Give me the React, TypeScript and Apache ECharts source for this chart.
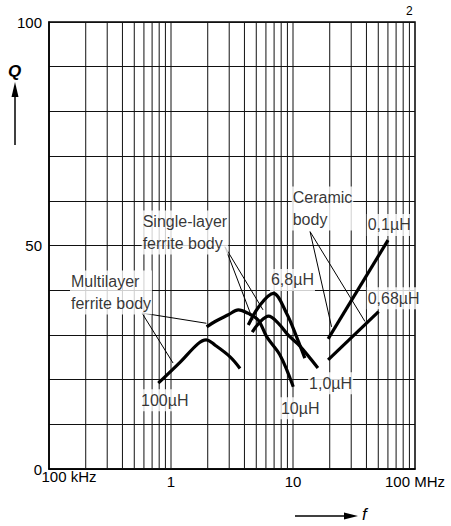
import React, { useEffect, useRef } from "react";
import * as echarts from "echarts";

// Frequencies in MHz, quality factor Q
const gridFreqs = [0.2, 0.3, 0.4, 0.5, 0.6, 0.7, 0.8, 0.9, 1, 2, 3, 4, 5, 6, 7, 8, 9, 10, 20, 30, 40, 50, 60, 70, 80, 90];

const ml100uH_f = [0.787, 1.19, 1.66, 1.94, 2.3, 3.05, 3.68];
const ml100uH_q = [19.2, 23.9, 28.0, 28.9, 27.7, 25.1, 22.5];

const ml10uH_f = [1.96, 2.3, 2.95, 3.56, 4.3, 5.2, 6.08, 7.82, 10.05];
const ml10uH_q = [31.8, 33.0, 34.5, 35.6, 34.8, 33.3, 29.6, 25.5, 18.4];

const sl6_8uH_f = [4.3, 5.37, 6.9, 8.87, 10.8, 12.5];
const sl6_8uH_q = [32.2, 36.7, 39.3, 34.8, 29.3, 24.8];

const sl1_0uH_f = [4.63, 5.37, 6.3, 7.59, 9.1, 11.4, 16.0];
const sl1_0uH_q = [30.6, 32.9, 34.2, 32.6, 30.0, 27.5, 22.6];

const ce0_1uH_f = [19.4, 60.1];
const ce0_1uH_q = [29.1, 51.2];

const ce0_68uH_f = [19.4, 50.3];
const ce0_68uH_q = [24.4, 35.2];

// Annotation texts and their anchors (f, Q)
const labelTexts = [
  "Multilayer\nferrite body",
  "Single-layer\nferrite body",
  "Ceramic\nbody",
  "0,1µH",
  "6,8µH",
  "0,68µH",
  "100µH",
  "10µH",
  "1,0µH",
];
const labelF = [0.1486, 0.575, 9.76, 40.2, 6.47, 40.2, 0.557, 7.82, 13.3];
const labelQ = [39.5, 52.9, 58.3, 54.6, 42.3, 38.2, 15.4, 13.6, 19.2];

// Leader lines: [from f, from Q, to f, to Q]
const leaders = [
  [0.578, 34.9, 1.95, 32.6],
  [0.578, 34.9, 1.04, 23.7],
  [2.77, 49.7, 4.7, 33.3],
  [2.77, 49.7, 5.68, 35.6],
  [13.8, 53.1, 20.7, 31.8],
  [13.8, 53.1, 38.9, 33.0],
];

const yTickLabels = [0, 50, 100];

const FONT = "'Liberation Sans', Arial, sans-serif";

function zip(f: number[], q: number[]) {
  return f.map((v, i) => [v, q[i]]);
}

export default function App() {
  const ref = useRef<HTMLDivElement>(null);
  useEffect(() => {
    if (!ref.current) return;
    const chart = echarts.init(ref.current, null, { renderer: "svg" });
    const curveStyle = { color: "#000", width: 3.2 };
    const curves = [
      { d: zip(ml100uH_f, ml100uH_q), smooth: 0.35 },
      { d: zip(ml10uH_f, ml10uH_q), smooth: 0.35 },
      { d: zip(sl6_8uH_f, sl6_8uH_q), smooth: 0.35 },
      { d: zip(sl1_0uH_f, sl1_0uH_q), smooth: 0.35 },
      { d: zip(ce0_1uH_f, ce0_1uH_q), smooth: false },
      { d: zip(ce0_68uH_f, ce0_68uH_q), smooth: false },
    ];
    const series: any[] = [
      {
        type: "custom",
        coordinateSystem: "cartesian2d",
        silent: true,
        z: 1,
        data: gridFreqs.map((f) => [f, 0]),
        encode: { x: 0, y: 1 },
        renderItem: (params: any, api: any) => {
          const f = api.value(0);
          const p0 = api.coord([f, 0]);
          const p1 = api.coord([f, 100]);
          return {
            type: "line",
            shape: { x1: p0[0], y1: p0[1], x2: p1[0], y2: p1[1] },
            style: { stroke: "#111", lineWidth: 1 },
          };
        },
      },
    ];
    curves.forEach((c) => {
      series.push({
        type: "line",
        data: c.d,
        smooth: c.smooth,
        symbol: "none",
        lineStyle: curveStyle,
        z: 4,
        silent: true,
      });
    });
    leaders.forEach((l) => {
      series.push({
        type: "line",
        data: [
          [l[0], l[1]],
          [l[2], l[3]],
        ],
        symbol: "none",
        lineStyle: { color: "#000", width: 1 },
        z: 3,
        silent: true,
      });
    });
    series.push({
      type: "scatter",
      symbolSize: 0,
      z: 6,
      silent: true,
      data: labelTexts.map((t, i) => ({ name: t, value: [labelF[i], labelQ[i]] })),
      label: {
        show: true,
        position: "right",
        distance: 0,
        formatter: (p: any) => p.name,
        color: "#000",
        fontSize: 16,
        fontFamily: FONT,
        lineHeight: 22,
        backgroundColor: "#fff",
        padding: [0, 1, 0, 1],
        align: "left",
        verticalAlign: "middle",
      },
    });

    chart.setOption({
      animation: false,
      backgroundColor: "#fff",
      grid: {
        left: 49,
        right: 36,
        top: 22,
        bottom: 57,
        show: true,
        borderColor: "#000",
        borderWidth: 1.5,
        backgroundColor: "transparent",
      },
      xAxis: {
        type: "log",
        logBase: 10,
        min: 0.1,
        max: 100,
        axisLine: { show: true, lineStyle: { color: "#000", width: 1.5 } },
        axisTick: { show: false },
        splitLine: { show: false },
        axisLabel: {
          margin: 0,
          color: "#000",
          fontSize: 15,
          fontFamily: FONT,
          formatter: (v: number) => {
            if (Math.abs(v - 0.1) < 1e-6) return "{a|100 kHz}";
            if (Math.abs(v - 100) < 1e-6) return "{b|100 MHz}";
            return "{b|" + Math.round(v) + "}";
          },
          rich: {
            a: { fontSize: 15, fontFamily: FONT, color: "#000", padding: [0, 0, 0, 40] },
            b: { fontSize: 15, fontFamily: FONT, color: "#000", padding: [5, 0, 0, 0] },
          },
        },
      },
      yAxis: {
        type: "value",
        min: 0,
        max: 100,
        interval: 10,
        axisLine: { show: true, lineStyle: { color: "#000", width: 1.5 } },
        axisTick: { show: false },
        splitLine: { show: true, lineStyle: { color: "#111", width: 1 } },
        axisLabel: {
          margin: 7,
          color: "#000",
          fontSize: 15,
          fontFamily: FONT,
          formatter: (v: number) => (yTickLabels.indexOf(v) >= 0 ? String(v) : ""),
        },
      },
      graphic: [
        {
          type: "text",
          left: 8,
          top: 63,
          style: { text: "Q", fontSize: 17, fontStyle: "italic", fontWeight: "bold", fontFamily: FONT, fill: "#000" },
        },
        {
          type: "line",
          shape: { x1: 15, y1: 145, x2: 15, y2: 96 },
          style: { stroke: "#000", lineWidth: 1.5 },
        },
        {
          type: "polygon",
          shape: { points: [[15, 82], [11.5, 97], [18.5, 97]] },
          style: { fill: "#000" },
        },
        {
          type: "line",
          shape: { x1: 295, y1: 516, x2: 345, y2: 516 },
          style: { stroke: "#000", lineWidth: 1.5 },
        },
        {
          type: "polygon",
          shape: { points: [[358, 516], [344, 512.5], [344, 519.5]] },
          style: { fill: "#000" },
        },
        {
          type: "text",
          left: 362,
          top: 506,
          style: { text: "f", fontSize: 17, fontStyle: "italic", fontFamily: FONT, fill: "#000" },
        },
        {
          type: "text",
          left: 406,
          top: 5,
          style: { text: "2", fontSize: 12, fontFamily: FONT, fill: "#000" },
        },
      ],
      series,
    });
    return () => chart.dispose();
  }, []);
  return (
    <div
      ref={ref}
      style={{ position: "fixed", left: 0, top: 0, width: 451, height: 526, background: "#fff" }}
    />
  );
}
